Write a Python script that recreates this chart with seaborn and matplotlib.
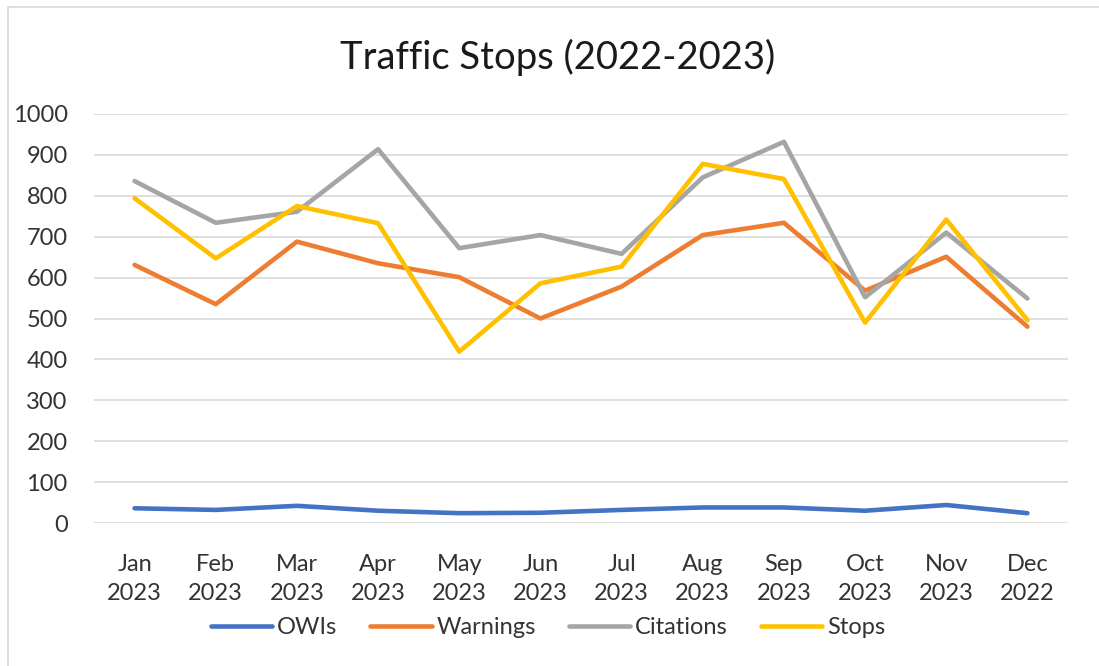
import matplotlib
matplotlib.use("Agg")
import matplotlib.pyplot as plt
import seaborn as sns
import pandas as pd

months = ["Jan\n2023", "Feb\n2023", "Mar\n2023", "Apr\n2023", "May\n2023", "Jun\n2023",
          "Jul\n2023", "Aug\n2023", "Sep\n2023", "Oct\n2023", "Nov\n2023", "Dec\n2022"]
owis = [36, 32, 42, 30, 24, 25, 32, 38, 38, 30, 44, 24]
warnings = [631, 535, 688, 635, 601, 500, 578, 704, 734, 568, 651, 480]
citations = [836, 734, 761, 914, 672, 704, 658, 845, 932, 552, 710, 549]
stops = [794, 647, 775, 733, 419, 586, 627, 878, 841, 490, 742, 496]

series = ["OWIs", "Warnings", "Citations", "Stops"]
colors = ["#4472C4", "#ED7D31", "#A5A5A5", "#FFC000"]

df = pd.DataFrame({
    "month": months * 4,
    "value": owis + warnings + citations + stops,
    "series": [s for s in series for _ in months],
})

sns.set_style("white")
plt.rcParams['font.family'] = ['Lato', 'DejaVu Sans']

fig = plt.figure(figsize=(10.99, 6.66), dpi=100)
ax = fig.add_axes([94/1099, 1 - 523/666, (1068-94)/1099, (523-114)/666])

sns.lineplot(data=df, x="month", y="value", hue="series", hue_order=series,
             palette=colors, linewidth=3.3, ax=ax, sort=False)

ax.set_xlim(-0.5, 11.5)
ax.set_ylim(0, 1000)
ax.set_yticks(range(0, 1001, 100))
ax.yaxis.grid(True, color="#D9D9D9", linewidth=1.2)
ax.set_axisbelow(True)
for s in ax.spines.values():
    s.set_visible(False)
ax.tick_params(axis="both", length=0, labelsize=17, colors="#333333")
ax.tick_params(axis="y", pad=19)
ax.tick_params(axis="x", pad=22)
for lab in ax.get_xticklabels():
    lab.set_linespacing(1.5)
ax.set_xlabel("")
ax.set_ylabel("")

handles, labels = ax.get_legend_handles_labels()
ax.get_legend().remove()
fig.legend(handles, labels, loc="center", bbox_to_anchor=(548/1099, 1 - 628/666),
           ncol=4, frameon=False, fontsize=17, handlelength=2.6, handletextpad=0.2,
           columnspacing=1.4, labelcolor="#333333")

fig.text(558/1099, 1 - 57/666, "Traffic Stops (2022-2023)", ha="center", va="center",
         fontsize=27.5, color="#1a1a1a")

# chart border (left and top edges visible in the screenshot)
fig.add_artist(plt.Line2D([8/1099, 8/1099], [0, 1 - 7/666], color="#D9D9D9", linewidth=1.2,
                          transform=fig.transFigure))
fig.add_artist(plt.Line2D([8/1099, 1], [1 - 7/666, 1 - 7/666], color="#D9D9D9", linewidth=1.2,
                          transform=fig.transFigure))

fig.savefig("out.png", dpi=100)
